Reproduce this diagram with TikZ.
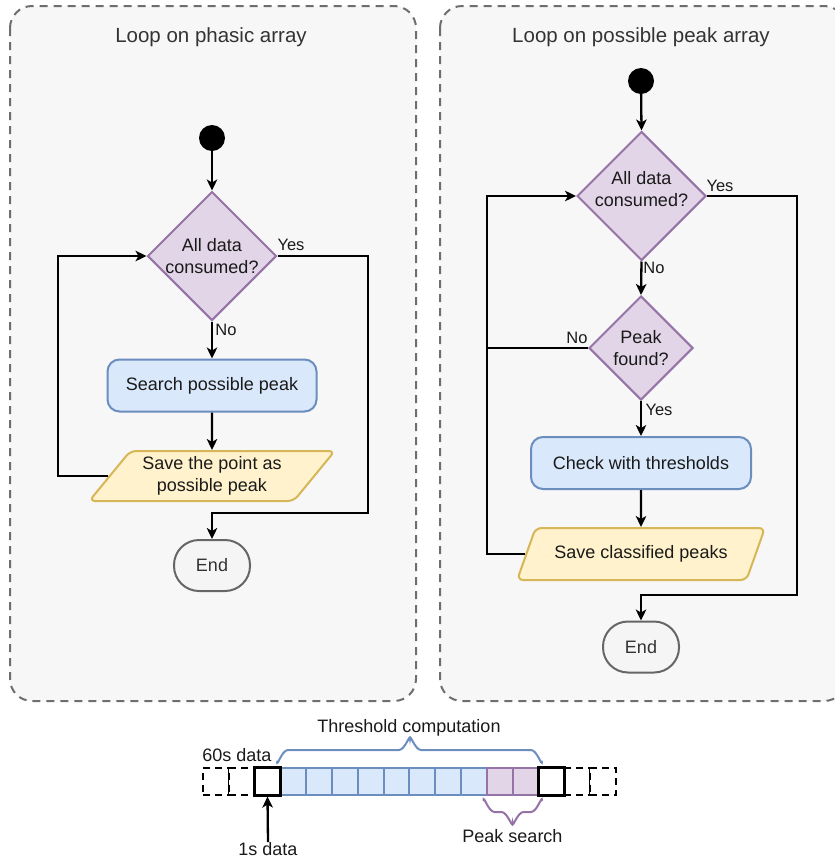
\documentclass[tikz,border=0pt]{standalone}
\usepackage{fontspec}
\setmainfont{Liberation Sans}
\usetikzlibrary{shapes.geometric, arrows.meta, calc}

\definecolor{boxbg}{HTML}{F7F7F7}
\definecolor{boxline}{HTML}{6E6E6E}
\definecolor{procfill}{HTML}{DAE8FC}
\definecolor{procline}{HTML}{6C8EBF}
\definecolor{decfill}{HTML}{E1D5E7}
\definecolor{decline}{HTML}{9673A6}
\definecolor{iofill}{HTML}{FFF2CC}
\definecolor{ioline}{HTML}{D6B656}
\definecolor{endfill}{HTML}{F5F5F5}
\definecolor{endline}{HTML}{666666}
\definecolor{txt}{HTML}{1A1A1A}
\definecolor{softtxt}{HTML}{333333}

\begin{document}
\begin{tikzpicture}[x=1pt,y=-1pt,
  container/.style={draw=boxline, fill=boxbg, line width=2pt,
    dash pattern=on 8pt off 6pt, rounded corners=22pt},
  title/.style={text=softtxt, font=\fontsize{20.5}{24}\selectfont, inner sep=0pt},
  base/.style={line width=2pt, text=txt, font=\fontsize{18}{22}\selectfont,
    align=center, inner sep=0pt},
  proc/.style={base, draw=procline, fill=procfill, rounded corners=12pt,
    minimum height=52pt},
  decision/.style={base, diamond, draw=decline, fill=decfill, inner sep=-3pt,
    minimum width=#1, minimum height=#1},
  io/.style={base, trapezium, trapezium left angle=48, trapezium right angle=132,
    trapezium stretches=true, draw=ioline, fill=iofill, rounded corners=6pt},
  terminal/.style={base, draw=endline, fill=endfill, text=softtxt,
    rounded corners=25pt, minimum width=76pt, minimum height=51pt},
  startdot/.style={circle, fill=black, minimum size=26pt, inner sep=0pt},
  lbl/.style={text=txt, font=\fontsize{16.5}{20}\selectfont, inner sep=0pt},
  conn/.style={line width=2.3pt, line join=miter,
    -{Stealth[length=11pt,width=10.5pt,inset=3pt]}},
  wire/.style={line width=2.3pt, line join=miter},
  cell/.style={minimum width=25.8pt, minimum height=27.5pt, inner sep=0pt},
  cellblue/.style={cell, draw=procline, fill=procfill, line width=2pt},
  cellpurple/.style={cell, draw=decline, fill=decfill, line width=2pt},
  cellsolid/.style={cell, draw=black, fill=white, line width=2.6pt},
  cellghost/.style={cell, draw=black, fill=white, line width=2pt,
    dash pattern=on 7pt off 5pt},
  bracket/.style={line width=2pt, line cap=round},
  annot/.style={text=txt, font=\fontsize{18}{22}\selectfont, inner sep=0pt}
]
\useasboundingbox (0,0) rectangle (835,860);

% ---------- containers ----------
\draw[container] (10,6) rectangle (416,701);
\draw[container] (440,6) rectangle (846,701);
\node[title] (t1) at (211,37) {Loop on phasic array};
\node[title] (t2) at (641,37) {Loop on possible peak array};

% ---------- loop on phasic array ----------
\node[startdot] (s1) at (212,138) {};
\node[decision=129pt] (d1) at (212,256) {All data\\consumed?};
\node[proc, minimum width=209pt] (p1) at (212,385.5) {Search possible peak};
\node[io, minimum width=246pt, minimum height=50pt] (o1) at (212,476)
  {Save the point as\\possible peak};
\node[terminal] (e1) at (212,565.5) {End};

\coordinate (y1) at (368,513);
\coordinate (l1) at (58,400);

\draw[conn] (s1) -- (d1.north);
\draw[conn] (d1.south) -- (p1.north);
\draw[conn] (p1.south) -- (o1.north);
\draw[conn] (o1.west) -| (l1) |- (d1.west);
\draw[conn] (d1.east) -| (y1) -| (e1.north);
\node[lbl] (yes1) at (291,245) {Yes};
\node[lbl] (no1) at (226,330) {No};

% ---------- loop on possible peak array ----------
\node[startdot] (s2) at (641,81) {};
\node[decision=129pt] (d2) at (641.5,196) {};
\node[base] (d2text) at (641.5,189) {All data\\consumed?};
\node[decision=104pt] (d3) at (641,348) {Peak\\found?};
\node[proc, minimum width=220pt] (p2) at (641,463) {Check with thresholds};
\node[io, minimum width=248pt, minimum height=52pt] (o2) at (641,554)
  {Save classified peaks};
\node[terminal] (e2) at (641,647) {End};

\coordinate (y2) at (797,595);
\coordinate (l2) at (487,348);

\draw[conn] (s2) -- (d2.north);
\draw[conn] (d2.south) -- (d3.north);
\draw[conn] (d3.south) -- (p2.north);
\draw[conn] (p2.south) -- (o2.north);
\draw[conn] (o2.west) -| (l2) |- (d2.west);
\draw[wire] (d3.west) -- (l2);
\draw[conn] (d2.east) -| (y2) -| (e2.north);
\node[lbl] (yes2) at (720,186) {Yes};
\node[lbl] (no2) at (654,268) {No};
\node[lbl] (no3) at (577,338) {No};
\node[lbl] (yes3) at (659,410) {Yes};

% ---------- data window strip ----------
\foreach \k in {3,...,10}
  \node[cellblue] (c\k) at ({203+25.8*\k+12.9},781.5) {};
\foreach \k in {11,12}
  \node[cellpurple] (c\k) at ({203+25.8*\k+12.9},781.5) {};
\foreach \k in {0,1,14,15}
  \node[cellghost] (c\k) at ({203+25.8*\k+12.9},781.5) {};
\foreach \k in {2,13}
  \node[cellsolid] (c\k) at ({203+25.8*\k+12.9},781.5) {};

% braces
\draw[bracket, draw=procline]
  (277,761.5) to[out=-90,in=180] (288,750) -- (399,750)
  to[out=0,in=90] (410,739) to[out=90,in=180] (421,750) -- (531,750)
  to[out=0,in=-90] (542,761.5);
\draw[bracket, draw=decline]
  (483.5,800.5) to[out=90,in=180] (494.5,812) -- (501.5,812)
  to[out=0,in=-90] (512.5,823) to[out=-90,in=180] (523.5,812) -- (531,812)
  to[out=0,in=90] (542,800.5);

\node[annot] (thr) at (409,728) {Threshold computation};
\node[annot] (w60) at (237,755) {60s data};
\node[annot] (pks) at (512.5,836) {Peak search};
\node[annot] (w1) at (268,849) {1s data};
\draw[conn] (w1.north) -- (c2.south);
\end{tikzpicture}
\end{document}
